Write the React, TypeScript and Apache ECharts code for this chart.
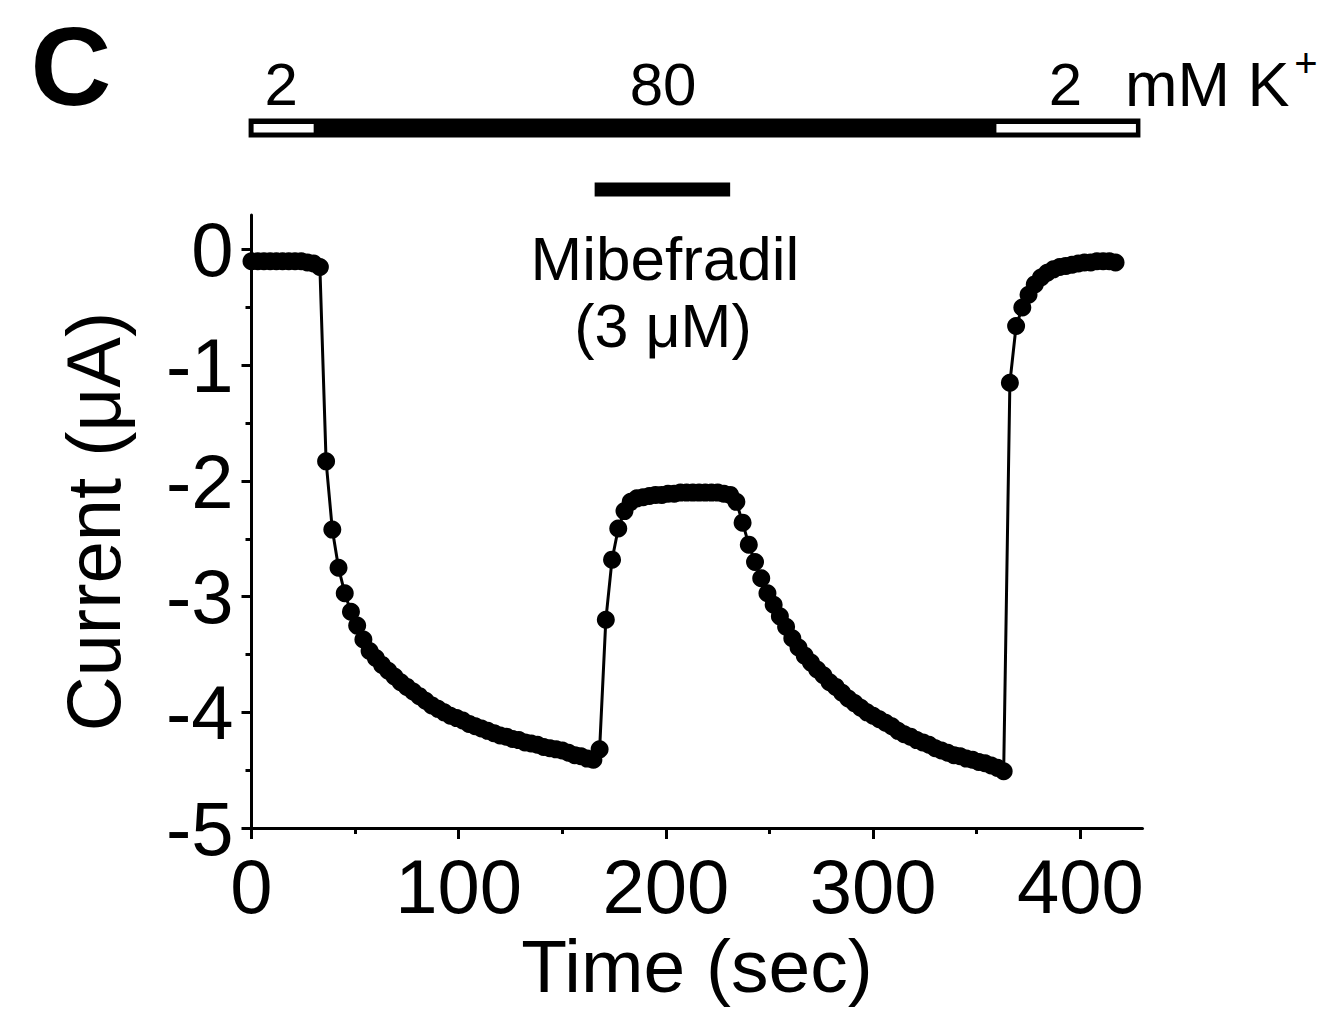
import React, { useEffect, useRef } from "react";
import * as echarts from "echarts";

// Sampling times (sec)
const times = [
  0, 3, 6, 9, 12, 15, 18, 21, 24, 27, 30, 33, 36, 39, 42, 45, 48, 51, 54, 57,
  60, 63, 66, 69, 72, 75, 78, 81, 84, 87, 90, 93, 96, 99, 102, 105, 108, 111, 114, 117,
  120, 123, 126, 129, 132, 135, 138, 141, 144, 147, 150, 153, 156, 159, 162, 165, 168, 171, 174, 177,
  180, 183, 186, 189, 192, 195, 198, 201, 204, 207, 210, 213, 216, 219, 222, 225, 228, 231, 234, 237,
  240, 243, 246, 249, 252, 255, 258, 261, 264, 267, 270, 273, 276, 279, 282, 285, 288, 291, 294, 297,
  300, 303, 306, 309, 312, 315, 318, 321, 324, 327, 330, 333, 336, 339, 342, 345, 348, 351, 354, 357,
  360, 363, 366, 369, 372, 375, 378, 381, 384, 387, 390, 393, 396, 399, 402, 405, 408, 411, 414, 417,
];

// Current (µA)
const current = [
  -0.10, -0.10, -0.10, -0.10, -0.10, -0.10, -0.10, -0.10, -0.10, -0.11, -0.12, -0.15, -1.83, -2.42, -2.75, -2.97, -3.13, -3.25, -3.37, -3.47,
  -3.53, -3.59, -3.64, -3.69, -3.74, -3.78, -3.82, -3.86, -3.90, -3.94, -3.97, -4.00, -4.03, -4.05, -4.07, -4.10, -4.12, -4.14, -4.16, -4.18,
  -4.20, -4.21, -4.23, -4.24, -4.26, -4.27, -4.28, -4.30, -4.31, -4.32, -4.33, -4.35, -4.37, -4.38, -4.40, -4.41, -4.32, -3.20, -2.68, -2.41,
  -2.26, -2.18, -2.15, -2.14, -2.13, -2.12, -2.12, -2.11, -2.11, -2.10, -2.10, -2.10, -2.10, -2.10, -2.10, -2.10, -2.11, -2.12, -2.18, -2.36,
  -2.55, -2.70, -2.84, -2.97, -3.07, -3.17, -3.26, -3.36, -3.44, -3.51, -3.57, -3.63, -3.68, -3.74, -3.78, -3.83, -3.88, -3.92, -3.96, -4.00,
  -4.03, -4.06, -4.09, -4.12, -4.16, -4.19, -4.21, -4.24, -4.26, -4.28, -4.31, -4.33, -4.35, -4.37, -4.38, -4.40, -4.41, -4.43, -4.44, -4.46,
  -4.48, -4.51, -1.15, -0.66, -0.50, -0.39, -0.30, -0.24, -0.20, -0.17, -0.15, -0.14, -0.13, -0.12, -0.11, -0.11, -0.10, -0.10, -0.10, -0.11,
];

const xMajorTicks = [0, 100, 200, 300, 400];
const xMinorTicks = [50, 150, 250, 350];
const yMajorTicks = [-5, -4, -3, -2, -1, 0];
const yMinorTicks = [-4.5, -3.5, -2.5, -1.5, -0.5];

// K+ concentration protocol (sec)
const kSegStart = [-1.4, 30, 359.5];
const kSegEnd = [30, 359.5, 429];
const kSegLabel = ["2", "80", "2"];
const kSegFilled = [false, true, false];

// Mibefradil application (sec)
const drugStart = 165.6;
const drugEnd = 231;

const FONT = "'Liberation Sans', Arial, Helvetica, sans-serif";

export default function App() {
  const ref = useRef<HTMLDivElement>(null);

  useEffect(() => {
    document.body.style.margin = "0";
    if (!ref.current) return;
    const chart = echarts.init(ref.current, undefined, { renderer: "svg" });
    const xMin = 0;
    const xMax = 430;
    const yMin = -5;
    const yMax = 0.3;
    const option: any = {
      animation: false,
      backgroundColor: "#ffffff",
      grid: { left: 251.5, right: 194.5, top: 215, bottom: 182, containLabel: false },
      xAxis: [
        {
          type: "value",
          min: xMin,
          max: xMax,
          position: "bottom",
          axisLine: { show: true, onZero: false, lineStyle: { color: "#000", width: 3 } },
          axisTick: { show: true, customValues: xMajorTicks, length: 11, lineStyle: { color: "#000", width: 3 } },
          axisLabel: {
            show: true,
            customValues: xMajorTicks,
            margin: 20,
            color: "#000",
            fontSize: 76,
            fontFamily: FONT,
          },
          splitLine: { show: false },
          name: "Time (sec)",
          nameLocation: "middle",
          nameGap: 100,
          nameTextStyle: { color: "#000", fontSize: 75, fontFamily: FONT },
        },
        {
          type: "value",
          min: xMin,
          max: xMax,
          position: "bottom",
          axisLine: { show: false, onZero: false },
          axisTick: { show: true, customValues: xMinorTicks, length: 6, lineStyle: { color: "#000", width: 3 } },
          axisLabel: { show: false },
          splitLine: { show: false },
        },
      ],
      yAxis: [
        {
          type: "value",
          min: yMin,
          max: yMax,
          position: "left",
          axisLine: { show: true, onZero: false, lineStyle: { color: "#000", width: 3 } },
          axisTick: { show: true, customValues: yMajorTicks, length: 10, lineStyle: { color: "#000", width: 3 } },
          axisLabel: {
            show: true,
            customValues: yMajorTicks,
            margin: 18,
            color: "#000",
            fontSize: 76,
            fontFamily: FONT,
          },
          splitLine: { show: false },
          name: "Current (\u03bcA)",
          nameLocation: "middle",
          nameGap: 120,
          nameTextStyle: { color: "#000", fontSize: 76, fontFamily: FONT },
        },
        {
          type: "value",
          min: yMin,
          max: yMax,
          position: "left",
          axisLine: { show: false, onZero: false },
          axisTick: { show: true, customValues: yMinorTicks, length: 6, lineStyle: { color: "#000", width: 3 } },
          axisLabel: { show: false },
          splitLine: { show: false },
        },
      ],
      series: [
        {
          type: "line",
          xAxisIndex: 0,
          yAxisIndex: 0,
          data: times.map((t, i) => [t, current[i]]),
          symbol: "circle",
          symbolSize: 18,
          showSymbol: true,
          lineStyle: { color: "#000", width: 3 },
          itemStyle: { color: "#000" },
        },
      ],
    };
    chart.setOption(option);

    const px = (t: number) => chart.convertToPixel({ xAxisIndex: 0 }, t) as number;
    const barTop = 118.5;
    const barBottom = 137.5;
    const inTop = 124;
    const inBottom = 132.5;
    const graphics: any[] = [];
    const outerL = px(kSegStart[0]);
    const outerR = px(kSegEnd[kSegEnd.length - 1]);
    graphics.push({
      type: "rect",
      shape: { x: outerL, y: barTop, width: outerR - outerL, height: barBottom - barTop },
      style: { fill: "#000" },
    });
    kSegStart.forEach((s, i) => {
      const l = px(s);
      const r = px(kSegEnd[i]);
      if (!kSegFilled[i]) {
        const il = i === 0 ? l + 5 : l;
        const ir = i === kSegStart.length - 1 ? r - 4.5 : r;
        graphics.push({
          type: "rect",
          shape: { x: il, y: inTop, width: ir - il, height: inBottom - inTop },
          style: { fill: "#fff" },
        });
      }
      graphics.push({
        type: "text",
        x: (l + r) / 2 + (i === 1 ? 8 : i === 2 ? -3 : 0),
        y: 84,
        style: {
          text: kSegLabel[i],
          fontSize: 60,
          fontFamily: FONT,
          fill: "#000",
          align: "center",
          verticalAlign: "middle",
        },
      });
    });
    graphics.push({
      type: "text",
      x: 1125,
      y: 84,
      style: { text: "mM K", fontSize: 63, fontFamily: FONT, fill: "#000", align: "left", verticalAlign: "middle" },
    });
    graphics.push({
      type: "text",
      x: 1306,
      y: 63,
      style: { text: "+", fontSize: 40, fontFamily: FONT, fill: "#000", align: "center", verticalAlign: "middle" },
    });
    graphics.push({
      type: "text",
      x: 71,
      y: 66,
      style: {
        text: "C",
        fontSize: 112,
        fontWeight: "bold",
        fontFamily: FONT,
        fill: "#000",
        align: "center",
        verticalAlign: "middle",
      },
    });
    const dl = px(drugStart);
    const dr = px(drugEnd);
    graphics.push({
      type: "rect",
      shape: { x: dl, y: 182.5, width: dr - dl, height: 14 },
      style: { fill: "#000" },
    });
    graphics.push({
      type: "text",
      x: 665,
      y: 258,
      style: { text: "Mibefradil", fontSize: 62, fontFamily: FONT, fill: "#000", align: "center", verticalAlign: "middle" },
    });
    graphics.push({
      type: "text",
      x: 663,
      y: 326,
      style: { text: "(3 \u03bcM)", fontSize: 61, fontFamily: FONT, fill: "#000", align: "center", verticalAlign: "middle" },
    });
    chart.setOption({ graphic: graphics });

    return () => {
      chart.dispose();
    };
  }, []);

  return <div ref={ref} style={{ width: 1337, height: 1010 }} />;
}
